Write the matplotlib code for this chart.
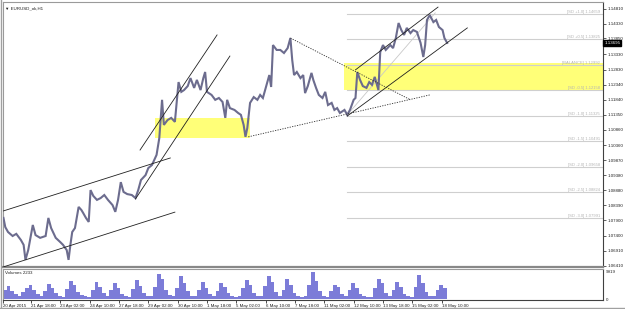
import matplotlib
matplotlib.use('Agg')
import matplotlib.pyplot as plt
import matplotlib.transforms as mtransforms
from matplotlib.patches import Rectangle

plt.rcParams['font.family'] = ['Liberation Sans', 'DejaVu Sans']

# ---------------- data ----------------
bar_index = [0, 2, 5, 10, 14, 19, 22, 24, 27, 29, 32, 35, 40, 46, 49, 52, 57, 62, 65, 69, 71, 73, 75, 78,
             82, 85, 87, 90, 93, 95, 98, 102, 106, 110, 114, 119, 122, 125, 128, 131, 135, 140, 144, 147,
             150, 155, 158, 162, 167, 170, 173, 175, 179, 183, 187, 191, 194, 197, 201, 204, 208, 211,
             215, 218, 220, 222, 227, 231, 235, 239, 242, 244, 247, 252, 256, 259, 262, 264, 266, 269,
             273, 277, 280, 283, 287, 290, 292, 294, 298, 302, 306, 310, 313, 315, 317, 320, 324, 327,
             329, 332, 336, 338, 341, 344, 348, 351, 354, 358, 361, 364, 367, 372, 375, 378, 382, 384,
             386, 389, 392, 396, 399, 402, 405, 409, 411, 414, 417, 422, 425, 428, 431, 434, 437, 440,
             444, 447, 451, 455, 458, 460, 462, 465, 469, 472, 475, 479, 481, 484]
price = [1.0798, 1.0768, 1.0752, 1.0739, 1.0746, 1.0726, 1.0710, 1.0661, 1.0693, 1.0726, 1.0775, 1.0742,
         1.0733, 1.0739, 1.0798, 1.0765, 1.0733, 1.0719, 1.0710, 1.0693, 1.0661, 1.0710, 1.0752, 1.0765,
         1.0834, 1.0824, 1.0814, 1.0798, 1.0785, 1.0889, 1.0870, 1.0857, 1.0863, 1.0873, 1.0857, 1.0840,
         1.0818, 1.0857, 1.0915, 1.0883, 1.0876, 1.0873, 1.0863, 1.0889, 1.0922, 1.0938, 1.0961, 1.0971,
         1.1004, 1.1059, 1.1184, 1.1102, 1.1118, 1.1125, 1.1112, 1.1242, 1.1210, 1.1216, 1.1229, 1.1255,
         1.1223, 1.1249, 1.1216, 1.1255, 1.1275, 1.1210, 1.1200, 1.1184, 1.1190, 1.1177, 1.1125, 1.1184,
         1.1157, 1.1151, 1.1141, 1.1135, 1.1102, 1.1063, 1.1092, 1.1174, 1.1193, 1.1184, 1.1200, 1.1190,
         1.1233, 1.1265, 1.1226, 1.1363, 1.1347, 1.1347, 1.1337, 1.1353, 1.1386, 1.1314, 1.1265, 1.1275,
         1.1255, 1.1265, 1.1206, 1.1229, 1.1272, 1.1249, 1.1223, 1.1200, 1.1190, 1.1210, 1.1167, 1.1174,
         1.1151, 1.1157, 1.1141, 1.1151, 1.1135, 1.1151, 1.1184, 1.1190, 1.1275, 1.1249, 1.1229, 1.1223,
         1.1242, 1.1233, 1.1259, 1.1216, 1.1340, 1.1363, 1.1347, 1.1363, 1.1353, 1.1386, 1.1435, 1.1412,
         1.1396, 1.1419, 1.1402, 1.1412, 1.1406, 1.1370, 1.1324, 1.1363, 1.1445, 1.1461, 1.1438, 1.1445,
         1.1422, 1.1412, 1.1386, 1.1370]

# tick volume, one value per 4-bar block
volume = [3500, 4800, 3000, 1800, 1200, 2500, 4200, 5300, 3500, 1800, 1000, 3000, 5600, 4200, 2200, 1200,
          900, 3800, 6500, 5000, 2600, 1400, 1000, 800, 3500, 6200, 4500, 2200, 1200, 3200, 5800, 4000,
          2000, 1100, 900, 3800, 7000, 4800, 2300, 1200, 1000, 4500, 9000, 7500, 3200, 1500, 1100, 4000,
          8500, 6000, 2800, 1300, 1000, 3500, 6300, 4200, 2000, 1100, 3000, 5800, 4300, 2100, 1200, 900,
          1000, 4200, 7000, 5000, 2300, 1200, 1000, 4800, 8600, 6200, 2600, 1300, 3500, 7500, 5200, 2400,
          1200, 900, 1100, 5000, 9900, 6500, 2800, 1200, 900, 3000, 5300, 4500, 2000, 1000, 3200, 5800,
          4000, 1900, 1000, 800, 900, 4000, 7500, 5800, 2400, 1100, 3300, 6300, 4500, 2000, 1000, 900,
          4500, 8800, 6000, 2500, 1200, 1000, 3500, 5200, 4200]
volume_block = 4

price_ticks = [1.14810, 1.14330, 1.13850, 1.13330, 1.12830, 1.12340, 1.11840, 1.11350, 1.10860,
               1.10360, 1.09870, 1.09380, 1.08880, 1.08390, 1.07900, 1.07400, 1.06910, 1.06410]
time_tick_index = [0, 30, 62, 94, 126, 158, 190, 222, 254, 286, 318, 350, 382, 414, 446, 478]
time_tick_labels = ["20 Apr 2015", "21 Apr 18:00", "23 Apr 02:00", "24 Apr 10:00", "27 Apr 18:00",
                    "29 Apr 02:00", "30 Apr 10:00", "1 May 18:00", "5 May 02:00", "6 May 10:00",
                    "7 May 18:00", "11 May 02:00", "12 May 10:00", "13 May 18:00", "15 May 02:00",
                    "18 May 10:00"]

last_price = 1.13695

# SD levels (label, value)
sd_labels = ["[SD +1.0]", "[SD +0.5]", "[BALANCE]", "[SD -0.5]", "[SD -1.0]", "[SD -1.5]",
             "[SD -2.0]", "[SD -2.5]", "[SD -3.0]"]
sd_values = [1.14659, 1.13825, 1.12992, 1.12158, 1.11325, 1.10491, 1.09658, 1.08824, 1.07991]
sd_start = 375

# chart objects: ((bar, price), (bar, price))
solid_lines = [((0, 1.0638), (187, 1.0817)),
               ((0, 1.0821), (182, 1.0994)),
               ((149, 1.1020), (233, 1.1396)),
               ((144, 1.0860), (247, 1.1327)),
               ((384, 1.1282), (474, 1.1487)),
               ((375, 1.1131), (506, 1.1419))]
faint_lines = [((375, 1.1135), (471, 1.1468))]
dotted_lines = [((313, 1.1386), (444, 1.1184)),
                ((267, 1.1063), (465, 1.1200))]
zones = [((165, 1.1059), (269, 1.1125)),
         ((372, 1.1216), (660, 1.1303))]

# ---------------- figure ----------------
W, H = 625, 309
fig = plt.figure(figsize=(W / 100, H / 100), dpi=100)
fig.patch.set_facecolor('white')

left, right = 3, 603
ax = fig.add_axes([left / W, 1 - 267 / H, (right - left) / W, 265 / H])
axv = fig.add_axes([left / W, 1 - 300 / H, (right - left) / W, 31 / H], sharex=ax)

xmax = 654
ax.set_xlim(-0.5, xmax)
ax.set_ylim(1.06377, 1.15037)

FS = 3.2

# zones
for (x0, y0), (x1, y1) in zones:
    ax.add_patch(Rectangle((x0, y0), x1 - x0, y1 - y0, facecolor='#ffff78', edgecolor='none', zorder=1))

# SD lines and labels
blend = mtransforms.blended_transform_factory(ax.transAxes, ax.transData)
for lab, v in zip(sd_labels, sd_values):
    ax.plot([sd_start, xmax], [v, v], color='#cfcfcf', lw=0.8, zorder=2)
    ax.text(0.995, v, f"{lab} {v:.5f}", transform=blend,
            ha='right', va='bottom', fontsize=3.0, color='#b4b4b4', zorder=3)

# price
ax.plot(bar_index, price, color='#6c6c8e', lw=1.5, zorder=4, solid_joinstyle='miter')

# objects
for (x0, y0), (x1, y1) in solid_lines:
    ax.plot([x0, x1], [y0, y1], color='#202020', lw=0.6, zorder=5)
for (x0, y0), (x1, y1) in faint_lines:
    ax.plot([x0, x1], [y0, y1], color='#c8c8c8', lw=0.6, zorder=3)
for (x0, y0), (x1, y1) in dotted_lines:
    ax.plot([x0, x1], [y0, y1], color='#303030', lw=0.6, ls=(0, (1.5, 1.5)), zorder=5)

# axes styling
ax.yaxis.tick_right()
ax.set_yticks(price_ticks)
ax.set_yticklabels([f"{t:.5f}" for t in price_ticks], fontsize=FS, color='#202020')
ax.tick_params(axis='y', length=2, width=0.5, pad=1.0, colors='#202020')
ax.tick_params(axis='x', bottom=False, labelbottom=False)
for s in ['top', 'left']:
    ax.spines[s].set_color('#9a9a9a')
    ax.spines[s].set_linewidth(0.8)
ax.spines['right'].set_color('#404040')
ax.spines['right'].set_linewidth(0.8)
ax.spines['bottom'].set_linewidth(1.6)
ax.spines['bottom'].set_color('#888888')

ax.text(1.002, last_price, f"{last_price:.5f}", transform=blend,
        ha='left', va='center', fontsize=FS, color='white', zorder=10, clip_on=False,
        bbox=dict(facecolor='black', edgecolor='black', pad=0.5))

ax.text(0.004, 0.985, "\u25bc EURUSD_ok,H1", transform=ax.transAxes, ha='left', va='top',
        fontsize=FS, color='#202020')

# volume
vx = [volume_block * k + (volume_block - 1) / 2 for k in range(len(volume))]
axv.bar(vx, volume, width=volume_block, color='#7c7cd8', edgecolor='none', zorder=2)
axv.set_ylim(-300, 11000)
axv.yaxis.tick_right()
axv.set_yticks([0, 9919])
axv.set_yticklabels(["0", "9919"], fontsize=FS, color='#202020')
axv.tick_params(axis='y', length=0, pad=2)
axv.set_xticks(time_tick_index)
axv.set_xticklabels(time_tick_labels, fontsize=FS, color='#202020', ha='left')
axv.tick_params(axis='x', length=2, width=0.5, pad=1, direction='out')
for s in ['top', 'left']:
    axv.spines[s].set_color('#9a9a9a')
    axv.spines[s].set_linewidth(0.8)
axv.spines['right'].set_color('#404040')
axv.spines['bottom'].set_color('#404040')
axv.spines['right'].set_linewidth(0.8)
axv.spines['bottom'].set_linewidth(0.8)
axv.text(0.004, 0.93, "Volumes 2233", transform=axv.transAxes, ha='left', va='top',
         fontsize=FS, color='#202020')

# outer frame lines
fig.add_artist(plt.Line2D([1 / W, 1 / W], [0, 1], color='#a0a0a0', lw=1.0))
fig.add_artist(plt.Line2D([0, 1], [1.5 / H, 1.5 / H], color='#a0a0a0', lw=1.0))

fig.savefig('out.png', dpi=100, facecolor='white')
